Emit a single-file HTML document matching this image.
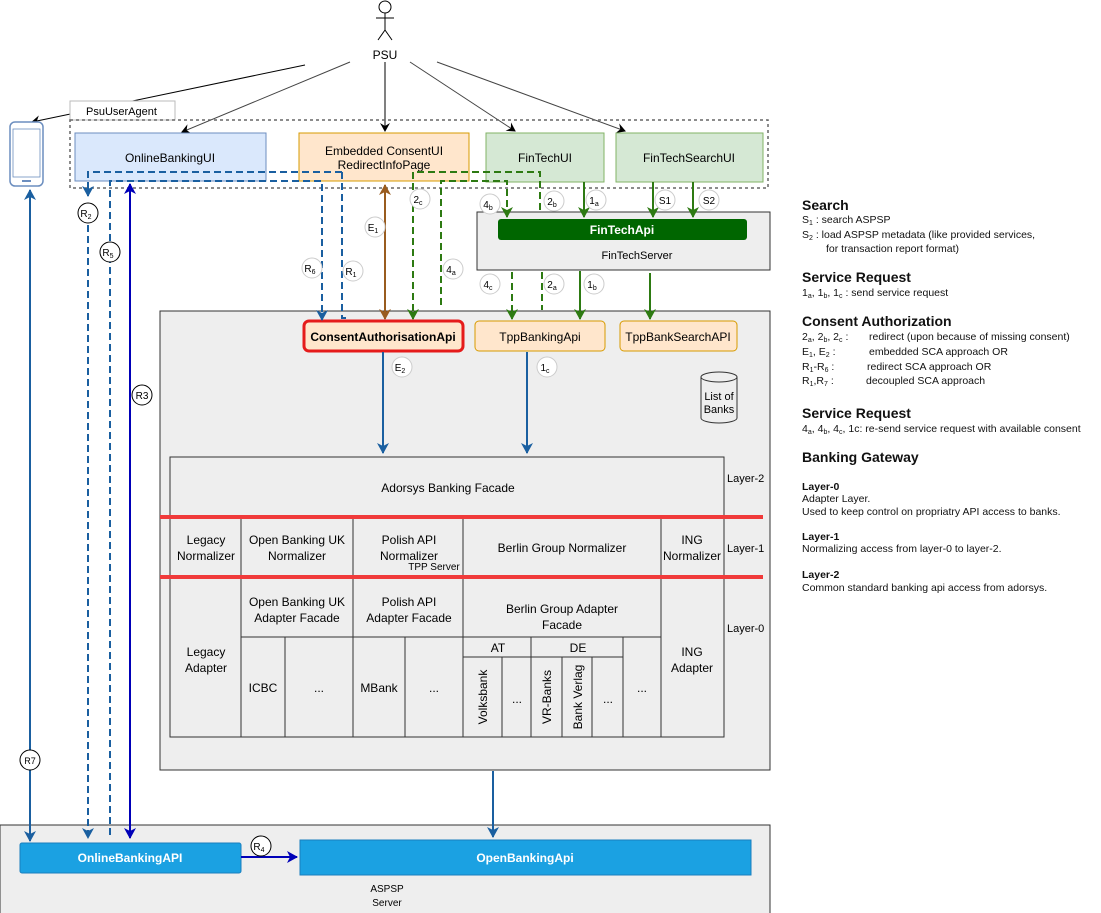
<!DOCTYPE html>
<html><head><meta charset="utf-8"><style>
html,body{margin:0;padding:0;background:#fff}
svg{display:block;font-family:"Liberation Sans",Arial,sans-serif}
</style></head><body>
<svg width="1101" height="913" viewBox="0 0 1101 913" xmlns="http://www.w3.org/2000/svg">
<defs>
<marker id="ak" markerWidth="10" markerHeight="10" refX="8" refY="5" orient="auto" markerUnits="userSpaceOnUse"><path d="M0,0 L9,5 L0,10 L3,5 z" fill="#000"/></marker>
<marker id="ab" markerWidth="12" markerHeight="12" refX="10" refY="6" orient="auto-start-reverse" markerUnits="userSpaceOnUse"><path d="M0,0 L11,6 L0,12 L3,6 z" fill="#1a5fa0"/></marker>
<marker id="ad" markerWidth="12" markerHeight="12" refX="10" refY="6" orient="auto-start-reverse" markerUnits="userSpaceOnUse"><path d="M0,0 L11,6 L0,12 L3,6 z" fill="#0000b8"/></marker>
<marker id="ag" markerWidth="12" markerHeight="12" refX="10" refY="6" orient="auto" markerUnits="userSpaceOnUse"><path d="M0,0 L11,6 L0,12 L3,6 z" fill="#2d7a12"/></marker>
<marker id="ao" markerWidth="12" markerHeight="12" refX="10" refY="6" orient="auto-start-reverse" markerUnits="userSpaceOnUse"><path d="M0,0 L11,6 L0,12 L3,6 z" fill="#995c1f"/></marker>
</defs>

<!-- PSU actor -->
<g stroke="#000" fill="#fff" stroke-width="1">
<circle cx="385" cy="7" r="6"/>
<line x1="385" y1="13" x2="385" y2="30"/>
<line x1="376" y1="18" x2="394" y2="18"/>
<line x1="385" y1="30" x2="378" y2="40"/>
<line x1="385" y1="30" x2="392" y2="40"/>
</g>
<text x="385" y="59" font-size="12" text-anchor="middle">PSU</text>
<g fill="none" stroke-width="1">
<line x1="305" y1="65" x2="32" y2="122" stroke="#000" marker-end="url(#ak)"/>
<line x1="350" y1="62" x2="182" y2="132" stroke="#444" marker-end="url(#ak)"/>
<line x1="385" y1="62" x2="385" y2="131" stroke="#000" marker-end="url(#ak)"/>
<line x1="410" y1="62" x2="515" y2="131" stroke="#444" marker-end="url(#ak)"/>
<line x1="437" y1="62" x2="625" y2="131" stroke="#444" marker-end="url(#ak)"/>
</g>

<!-- phone -->
<rect x="10" y="122" width="33" height="64" rx="5" fill="#fff" stroke="#6c8ebf" stroke-width="1.5"/>
<rect x="13" y="129" width="27" height="48" fill="#fff" stroke="#6c8ebf" stroke-width="0.8"/>
<rect x="22" y="180" width="9" height="2" fill="#6c8ebf"/>

<!-- PsuUserAgent -->
<rect x="70" y="101" width="105" height="19" fill="#fff" stroke="#bbb"/>
<text x="86" y="115" font-size="11">PsuUserAgent</text>
<rect x="70" y="120" width="698" height="68" fill="none" stroke="#666" stroke-width="1.5" stroke-dasharray="3,3"/>

<rect x="75" y="133" width="191" height="48" fill="#dae8fc" stroke="#6c8ebf"/>
<text x="170" y="162" font-size="12" text-anchor="middle">OnlineBankingUI</text>
<rect x="299" y="133" width="170" height="48" fill="#ffe6cc" stroke="#d79b00"/>
<text x="384" y="155" font-size="12" text-anchor="middle">Embedded ConsentUI</text>
<text x="384" y="169" font-size="12" text-anchor="middle">RedirectInfoPage</text>
<rect x="486" y="133" width="118" height="49" fill="#d5e8d4" stroke="#82b366"/>
<text x="545" y="162" font-size="12" text-anchor="middle">FinTechUI</text>
<rect x="616" y="133" width="147" height="49" fill="#d5e8d4" stroke="#82b366"/>
<text x="689" y="162" font-size="12" text-anchor="middle">FinTechSearchUI</text>

<!-- FinTechServer -->
<rect x="477" y="212" width="293" height="58" fill="#eee" stroke="#333"/>
<rect x="498" y="219" width="249" height="21" rx="3" fill="#006600"/>
<text x="622" y="234" font-size="12" font-weight="bold" fill="#fff" text-anchor="middle">FinTechApi</text>
<text x="637" y="259" font-size="11" text-anchor="middle">FinTechServer</text>

<!-- TPP server -->
<rect x="160" y="311" width="610" height="459" fill="#eee" stroke="#333"/>
<rect x="304" y="321" width="159" height="30" rx="5" fill="#ffe6cc" stroke="#e51b1b" stroke-width="3"/>
<text x="383" y="341" font-size="12" font-weight="bold" text-anchor="middle">ConsentAuthorisationApi</text>
<rect x="475" y="321" width="130" height="30" rx="4" fill="#ffe6cc" stroke="#d79b00"/>
<text x="540" y="341" font-size="12" text-anchor="middle">TppBankingApi</text>
<rect x="620" y="321" width="117" height="30" rx="4" fill="#ffe6cc" stroke="#d79b00"/>
<text x="678" y="341" font-size="12" text-anchor="middle">TppBankSearchAPI</text>

<!-- cylinder -->
<path d="M701,377 L701,418 A18,5 0 0 0 737,418 L737,377" fill="#eee" stroke="#333"/>
<ellipse cx="719" cy="377" rx="18" ry="5" fill="#eee" stroke="#333"/>
<text x="719" y="400" font-size="11" text-anchor="middle">List of</text>
<text x="719" y="413" font-size="11" text-anchor="middle">Banks</text>

<!-- layer table -->
<g fill="none" stroke="#333" stroke-width="1">
<rect x="170" y="457" width="554" height="280" fill="#eee"/>
<line x1="170" y1="517" x2="724" y2="517"/>
<line x1="241" y1="517" x2="241" y2="737"/>
<line x1="353" y1="517" x2="353" y2="737"/>
<line x1="463" y1="517" x2="463" y2="737"/>
<line x1="661" y1="517" x2="661" y2="737"/>
<line x1="241" y1="637" x2="661" y2="637"/>
<line x1="285" y1="637" x2="285" y2="737"/>
<line x1="405" y1="637" x2="405" y2="737"/>
<line x1="463" y1="657" x2="623" y2="657"/>
<line x1="502" y1="657" x2="502" y2="737"/>
<line x1="531" y1="637" x2="531" y2="737"/>
<line x1="562" y1="657" x2="562" y2="737"/>
<line x1="592" y1="657" x2="592" y2="737"/>
<line x1="623" y1="637" x2="623" y2="737"/>
</g>
<line x1="160" y1="517" x2="763" y2="517" stroke="#f03a3a" stroke-width="4"/>
<line x1="160" y1="577" x2="763" y2="577" stroke="#f03a3a" stroke-width="4"/>
<g font-size="12" text-anchor="middle">
<text x="448" y="492">Adorsys Banking Facade</text>
<text x="206" y="544">Legacy</text><text x="206" y="560">Normalizer</text>
<text x="297" y="544">Open Banking UK</text><text x="297" y="560">Normalizer</text>
<text x="409" y="544">Polish API</text><text x="409" y="560">Normalizer</text>
<text x="434" y="570" font-size="10">TPP Server</text>
<text x="562" y="552">Berlin Group Normalizer</text>
<text x="692" y="544">ING</text><text x="692" y="560">Normalizer</text>
<text x="206" y="656">Legacy</text><text x="206" y="672">Adapter</text>
<text x="297" y="606">Open Banking UK</text><text x="297" y="622">Adapter Facade</text>
<text x="409" y="606">Polish API</text><text x="409" y="622">Adapter Facade</text>
<text x="562" y="613">Berlin Group Adapter</text><text x="562" y="629">Facade</text>
<text x="692" y="656">ING</text><text x="692" y="672">Adapter</text>
<text x="263" y="692">ICBC</text>
<text x="319" y="692">...</text>
<text x="379" y="692">MBank</text>
<text x="434" y="692">...</text>
<text x="498" y="652">AT</text>
<text x="578" y="652">DE</text>
<text x="517" y="703">...</text>
<text x="608" y="703">...</text>
<text x="642" y="692">...</text>
<text transform="translate(487,697) rotate(-90)">Volksbank</text>
<text transform="translate(551,697) rotate(-90)">VR-Banks</text>
<text transform="translate(582,697) rotate(-90)">Bank Verlag</text>
</g>
<g font-size="11">
<text x="727" y="482">Layer-2</text>
<text x="727" y="552">Layer-1</text>
<text x="727" y="632">Layer-0</text>
</g>

<!-- ASPSP -->
<rect x="0" y="825" width="770" height="92" fill="#eee" stroke="#333"/>
<rect x="20" y="843" width="221" height="30" rx="2" fill="#1ba1e2" stroke="#1a7fbf"/>
<text x="130" y="862" font-size="12" font-weight="bold" fill="#fff" text-anchor="middle">OnlineBankingAPI</text>
<rect x="300" y="840" width="451" height="35" fill="#1ba1e2" stroke="#1a7fbf"/>
<text x="525" y="862" font-size="12" font-weight="bold" fill="#fff" text-anchor="middle">OpenBankingApi</text>
<text x="387" y="892" font-size="10" text-anchor="middle">ASPSP</text>
<text x="387" y="906" font-size="10" text-anchor="middle">Server</text>

<!-- connectors -->
<g fill="none" stroke-width="2">
<!-- blue solid -->
<line x1="30" y1="190" x2="30" y2="841" stroke="#1a5fa0" marker-start="url(#ab)" marker-end="url(#ab)"/>
<line x1="130" y1="184" x2="130" y2="838" stroke="#0000b8" marker-start="url(#ad)" marker-end="url(#ad)"/>
<line x1="241" y1="857" x2="297" y2="857" stroke="#0000b8" marker-end="url(#ad)"/>
<line x1="383" y1="352" x2="383" y2="453" stroke="#1a5fa0" marker-end="url(#ab)"/>
<line x1="527" y1="352" x2="527" y2="453" stroke="#1a5fa0" marker-end="url(#ab)"/>
<line x1="493" y1="771" x2="493" y2="837" stroke="#1a5fa0" marker-end="url(#ab)"/>
<!-- blue dashed -->
<g stroke="#1a5fa0" stroke-dasharray="7,4">
<path d="M342,172 L88,172 L88,196" marker-end="url(#ab)"/>
<path d="M88,225 L88,838" marker-end="url(#ab)"/>
<path d="M110,835 L110,181 L322,181 L322,320" marker-end="url(#ab)"/>
<path d="M342,172 L342,318 L346,318"/>
</g>
<!-- brown -->
<line x1="385" y1="185" x2="385" y2="319" stroke="#995c1f" marker-start="url(#ao)" marker-end="url(#ao)"/>
<!-- green dashed -->
<g stroke="#2d7a12" stroke-dasharray="7,4">
<path d="M540,210 L540,172 L413,172 L413,319" marker-end="url(#ag)"/>
<path d="M441,305 L441,181 L507,181 L507,217" marker-end="url(#ag)"/>
<path d="M512,272 L512,319" marker-end="url(#ag)"/>
<path d="M542,272 L542,310"/>
</g>
<!-- green solid -->
<g stroke="#2d7a12">
<line x1="584" y1="182" x2="584" y2="217" marker-end="url(#ag)"/>
<line x1="653" y1="182" x2="653" y2="217" marker-end="url(#ag)"/>
<line x1="693" y1="182" x2="693" y2="217" marker-end="url(#ag)"/>
<line x1="580" y1="271" x2="580" y2="319" marker-end="url(#ag)"/>
<line x1="650" y1="273" x2="650" y2="319" marker-end="url(#ag)"/>
</g>
</g>

<!-- label circles -->
<g font-size="10" text-anchor="middle">
<g fill="#fff" stroke="#000" stroke-width="1">
<circle cx="88" cy="213" r="10"/><circle cx="110" cy="252" r="10"/><circle cx="142" cy="395" r="10"/><circle cx="30" cy="760" r="10"/><circle cx="261" cy="846" r="10"/>
</g>
<g fill="#fff" stroke="#ccc" stroke-width="1">
<circle cx="312" cy="268" r="10"/><circle cx="353" cy="271" r="10"/><circle cx="375" cy="227" r="10"/><circle cx="420" cy="199" r="10"/><circle cx="453" cy="269" r="10"/><circle cx="490" cy="204" r="10"/><circle cx="554" cy="201" r="10"/><circle cx="490" cy="284" r="10"/><circle cx="554" cy="284" r="10"/><circle cx="596" cy="200" r="10"/><circle cx="594" cy="284" r="10"/><circle cx="665" cy="200" r="10"/><circle cx="709" cy="200" r="10"/><circle cx="547" cy="367" r="10"/><circle cx="402" cy="367" r="10"/>
</g>
<text x="86" y="217">R<tspan font-size="7" dy="2">2</tspan></text>
<text x="108" y="256">R<tspan font-size="7" dy="2">5</tspan></text>
<text x="142" y="399">R3</text>
<text x="30" y="764" font-size="9">R7</text>
<text x="259" y="850">R<tspan font-size="7" dy="2">4</tspan></text>
<text x="310" y="272">R<tspan font-size="7" dy="2">6</tspan></text>
<text x="351" y="275">R<tspan font-size="7" dy="2">1</tspan></text>
<text x="373" y="231">E<tspan font-size="7" dy="2">1</tspan></text>
<text x="400" y="371">E<tspan font-size="7" dy="2">2</tspan></text>
<text x="418" y="203">2<tspan font-size="7" dy="2">c</tspan></text>
<text x="451" y="273">4<tspan font-size="7" dy="2">a</tspan></text>
<text x="488" y="208">4<tspan font-size="7" dy="2">b</tspan></text>
<text x="552" y="205">2<tspan font-size="7" dy="2">b</tspan></text>
<text x="488" y="288">4<tspan font-size="7" dy="2">c</tspan></text>
<text x="552" y="288">2<tspan font-size="7" dy="2">a</tspan></text>
<text x="594" y="204">1<tspan font-size="7" dy="2">a</tspan></text>
<text x="592" y="288">1<tspan font-size="7" dy="2">b</tspan></text>
<text x="545" y="371">1<tspan font-size="7" dy="2">c</tspan></text>
<text x="665" y="204">S1</text>
<text x="709" y="204">S2</text>
</g>

<!-- legend -->
<g font-size="10.5" fill="#111">
<text x="802" y="210" font-size="14" font-weight="bold">Search</text>
<text x="802" y="223">S<tspan font-size="7" dy="2">1</tspan><tspan dy="-2"> :  search ASPSP</tspan></text>
<text x="802" y="238">S<tspan font-size="7" dy="2">2</tspan><tspan dy="-2"> :  load ASPSP metadata (like provided services,</tspan></text>
<text x="826" y="252">for transaction report format)</text>
<text x="802" y="282" font-size="14" font-weight="bold">Service Request</text>
<text x="802" y="296">1<tspan font-size="7" dy="2">a</tspan><tspan dy="-2">, 1</tspan><tspan font-size="7" dy="2">b</tspan><tspan dy="-2">, 1</tspan><tspan font-size="7" dy="2">c</tspan><tspan dy="-2"> :      send service request</tspan></text>
<text x="802" y="326" font-size="14" font-weight="bold">Consent Authorization</text>
<text x="802" y="340">2<tspan font-size="7" dy="2">a</tspan><tspan dy="-2">, 2</tspan><tspan font-size="7" dy="2">b</tspan><tspan dy="-2">, 2</tspan><tspan font-size="7" dy="2">c</tspan><tspan dy="-2"> :</tspan></text>
<text x="869" y="340">redirect (upon because of missing consent)</text>
<text x="802" y="355">E<tspan font-size="7" dy="2">1</tspan><tspan dy="-2">, E</tspan><tspan font-size="7" dy="2">2</tspan><tspan dy="-2"> :</tspan></text>
<text x="869" y="355">embedded SCA approach OR</text>
<text x="802" y="370">R<tspan font-size="7" dy="2">1</tspan><tspan dy="-2">-R</tspan><tspan font-size="7" dy="2">6</tspan><tspan dy="-2"> :</tspan></text>
<text x="867" y="370">redirect SCA approach OR</text>
<text x="802" y="384">R<tspan font-size="7" dy="2">1</tspan><tspan dy="-2">,R</tspan><tspan font-size="7" dy="2">7</tspan><tspan dy="-2"> :</tspan></text>
<text x="866" y="384">decoupled SCA approach</text>
<text x="802" y="418" font-size="14" font-weight="bold">Service Request</text>
<text x="802" y="432">4<tspan font-size="7" dy="2">a</tspan><tspan dy="-2">, 4</tspan><tspan font-size="7" dy="2">b</tspan><tspan dy="-2">, 4</tspan><tspan font-size="7" dy="2">c</tspan><tspan dy="-2">, 1c: re-send service request with available consent</tspan></text>
<text x="802" y="462" font-size="14" font-weight="bold">Banking Gateway</text>
<text x="802" y="490" font-weight="bold">Layer-0</text>
<text x="802" y="502">Adapter Layer.</text>
<text x="802" y="515">Used to keep control on propriatry API access to banks.</text>
<text x="802" y="540" font-weight="bold">Layer-1</text>
<text x="802" y="552">Normalizing access from layer-0 to layer-2.</text>
<text x="802" y="578" font-weight="bold">Layer-2</text>
<text x="802" y="591">Common standard banking api access from adorsys.</text>
</g>
</svg>
</body></html>
